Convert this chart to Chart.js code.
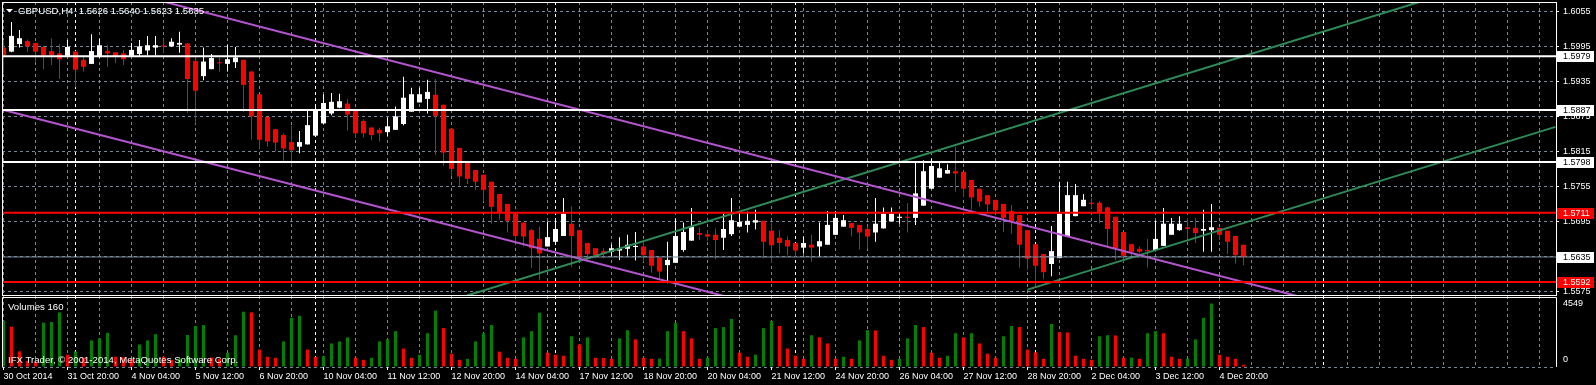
<!DOCTYPE html>
<html><head><meta charset="utf-8">
<script src="https://cdn.jsdelivr.net/npm/chart.js@4.4.1/dist/chart.umd.min.js"></script>
<style>html,body{margin:0;padding:0;background:#000;overflow:hidden}canvas{display:block}</style>
</head><body>
<canvas id="c" width="1596" height="385"></canvas>
<script>
const symbol = 'GBPUSD,H4';
const titleValues = [1.5626, 1.5640, 1.5623, 1.5635];

const opens = [
1.5994,1.5987,1.6000,1.6005,1.6002,1.5995,1.5988,1.5984,1.5980,1.5987,
1.5973,1.5966,1.5978,1.5988,1.5986,1.5984,1.5980,1.5983,1.5989,1.5994,
1.5997,1.5996,1.5999,1.6001,1.5971,1.5945,1.5957,1.5968,1.5966,1.5969,
1.5973,1.5953,1.5914,1.5875,1.5854,1.5844,1.5832,1.5824,1.5828,1.5843,
1.5864,1.5881,1.5891,1.5898,1.5887,1.5868,1.5857,1.5853,1.5849,1.5853,
1.5863,1.5884,1.5900,1.5906,1.5913,1.5896,1.5855,1.5822,1.5797,1.5784,
1.5776,1.5764,1.5743,1.5726,1.5709,1.5694,1.5681,1.5666,1.5653,1.5661,
1.5671,1.5692,1.5681,1.5659,1.5650,1.5645,1.5644,1.5646,1.5649,1.5652,
1.5653,1.5647,1.5634,1.5621,1.5625,1.5647,1.5663,1.5676,1.5674,1.5673,
1.5668,1.5674,1.5687,1.5690,1.5694,1.5697,1.5680,1.5668,1.5664,1.5659,
1.5651,1.5656,1.5653,1.5656,1.5673,1.5687,1.5693,1.5690,1.5683,1.5677,
1.5684,1.5696,1.5702,1.5704,1.5702,1.5723,1.5752,1.5771,1.5778,1.5782,
1.5781,1.5767,1.5752,1.5741,1.5733,1.5726,1.5714,1.5707,1.5681,1.5657,
1.5640,1.5623,1.5633,1.5671,1.5705,1.5722,1.5728,1.5728,1.5720,1.5704,
1.5678,1.5657,1.5649,1.5647,1.5647,1.5654,1.5673,1.5681,1.5686,1.5685,
1.5680,1.5681,1.5685,1.5680,1.5671,1.5656];

const highs = [
1.6007,1.6038,1.6024,1.6008,1.6002,1.5997,1.6010,1.6000,1.6007,1.5988,
1.5978,1.6017,1.6009,1.5999,1.5986,1.5990,1.6002,1.6007,1.6014,1.6014,
1.6009,1.6010,1.6021,1.6002,1.5978,1.5994,1.5983,1.5977,1.5999,1.5995,
1.5973,1.5953,1.5914,1.5875,1.5855,1.5847,1.5860,1.5851,1.5887,1.5897,
1.5914,1.5916,1.5915,1.5906,1.5887,1.5871,1.5857,1.5857,1.5874,1.5893,
1.5944,1.5925,1.5925,1.5939,1.5940,1.5896,1.5855,1.5822,1.5797,1.5784,
1.5776,1.5764,1.5743,1.5726,1.5709,1.5694,1.5683,1.5687,1.5696,1.5700,
1.5736,1.5722,1.5681,1.5659,1.5650,1.5650,1.5657,1.5669,1.5673,1.5678,
1.5661,1.5647,1.5634,1.5661,1.5701,1.5694,1.5719,1.5686,1.5681,1.5684,
1.5709,1.5736,1.5710,1.5713,1.5716,1.5697,1.5694,1.5681,1.5670,1.5659,
1.5670,1.5673,1.5694,1.5714,1.5714,1.5707,1.5693,1.5690,1.5687,1.5736,
1.5720,1.5720,1.5709,1.5727,1.5798,1.5801,1.5804,1.5798,1.5794,1.5824,
1.5781,1.5767,1.5752,1.5741,1.5733,1.5726,1.5724,1.5707,1.5681,1.5657,
1.5640,1.5688,1.5764,1.5764,1.5760,1.5743,1.5736,1.5731,1.5721,1.5704,
1.5678,1.5657,1.5653,1.5666,1.5697,1.5719,1.5702,1.5705,1.5702,1.5702,
1.5716,1.5726,1.5685,1.5680,1.5671,1.5656];

const lows = [
1.5950,1.5986,1.5994,1.5987,1.5968,1.5957,1.5964,1.5940,1.5978,1.5926,
1.5953,1.5966,1.5976,1.5961,1.5967,1.5964,1.5978,1.5978,1.5981,1.5981,
1.5985,1.5995,1.5985,1.5882,1.5864,1.5938,1.5957,1.5953,1.5953,1.5959,
1.5884,1.5836,1.5821,1.5824,1.5816,1.5800,1.5790,1.5813,1.5828,1.5843,
1.5863,1.5878,1.5890,1.5852,1.5839,1.5840,1.5835,1.5833,1.5842,1.5853,
1.5861,1.5884,1.5900,1.5881,1.5810,1.5791,1.5774,1.5757,1.5760,1.5750,
1.5730,1.5692,1.5699,1.5677,1.5656,1.5653,1.5616,1.5595,1.5653,1.5661,
1.5671,1.5618,1.5630,1.5630,1.5633,1.5633,1.5636,1.5630,1.5637,1.5629,
1.5627,1.5608,1.5597,1.5590,1.5625,1.5644,1.5663,1.5664,1.5663,1.5631,
1.5647,1.5671,1.5686,1.5677,1.5682,1.5633,1.5625,1.5641,1.5638,1.5635,
1.5641,1.5627,1.5636,1.5656,1.5673,1.5687,1.5670,1.5648,1.5649,1.5661,
1.5684,1.5696,1.5692,1.5677,1.5690,1.5723,1.5752,1.5771,1.5778,1.5747,
1.5738,1.5716,1.5721,1.5711,1.5709,1.5678,1.5675,1.5617,1.5613,1.5584,
1.5597,1.5602,1.5633,1.5671,1.5705,1.5722,1.5718,1.5693,1.5652,1.5630,
1.5627,1.5636,1.5641,1.5617,1.5645,1.5654,1.5673,1.5680,1.5662,1.5659,
1.5644,1.5644,1.5664,1.5640,1.5624,1.5621];

const closes = [
1.5981,1.6014,1.6010,1.5996,1.5987,1.5981,1.5981,1.5974,1.5995,1.5956,
1.5961,1.5988,1.5998,1.5984,1.5978,1.5974,1.5990,1.5996,1.5998,1.5998,
1.5996,1.6004,1.6002,1.5940,1.5920,1.5970,1.5976,1.5967,1.5974,1.5977,
1.5930,1.5876,1.5836,1.5833,1.5831,1.5821,1.5818,1.5832,1.5861,1.5887,
1.5899,1.5901,1.5902,1.5879,1.5847,1.5847,1.5844,1.5847,1.5859,1.5876,
1.5908,1.5914,1.5914,1.5918,1.5877,1.5814,1.5786,1.5773,1.5769,1.5764,
1.5750,1.5721,1.5711,1.5697,1.5671,1.5670,1.5650,1.5641,1.5669,1.5683,
1.5709,1.5671,1.5634,1.5640,1.5638,1.5642,1.5650,1.5650,1.5656,1.5654,
1.5638,1.5620,1.5610,1.5630,1.5671,1.5678,1.5687,1.5673,1.5670,1.5664,
1.5683,1.5698,1.5695,1.5697,1.5698,1.5661,1.5655,1.5659,1.5653,1.5646,
1.5659,1.5651,1.5662,1.5690,1.5702,1.5698,1.5685,1.5677,1.5670,1.5692,
1.5709,1.5709,1.5704,1.5702,1.5744,1.5782,1.5791,1.5787,1.5784,1.5778,
1.5752,1.5737,1.5730,1.5725,1.5715,1.5702,1.5696,1.5656,1.5632,1.5620,
1.5609,1.5645,1.5709,1.5741,1.5741,1.5733,1.5726,1.5712,1.5683,1.5650,
1.5637,1.5644,1.5644,1.5645,1.5666,1.5692,1.5692,1.5692,1.5683,1.5676,
1.5683,1.5686,1.5673,1.5661,1.5638,1.5635];

const volumes = [
3325,2885,1123,440,367,3178,3230,3912,881,1123,
661,1908,2055,2444,734,697,587,1615,1908,2349,
734,514,587,2297,2936,3009,683,587,1028,2275,
3964,3912,1248,734,661,1835,3523,3670,1248,734,
771,1688,1835,2129,661,514,661,1835,1982,2569,
1321,661,881,2422,4037,2789,954,514,587,1835,
2422,3009,1101,661,587,2129,2569,3890,1028,881,
807,2202,1615,2129,661,646,587,2055,2642,1982,
661,587,602,2569,3156,2569,2055,587,661,2789,
2863,3450,1028,734,881,2789,3303,2936,1321,807,
587,2275,2129,1688,587,734,587,1908,2642,2620,
807,514,587,2055,3009,2863,1028,661,807,2422,
2129,2422,1688,954,661,2202,2936,2863,1248,1050,
587,3083,2496,2474,807,587,514,2202,2275,2261,
661,675,587,2422,2569,2422,734,587,602,1982,
3523,4549,881,734,587,160];

const timeLabels = ['30 Oct 2014','31 Oct 20:00','4 Nov 04:00','5 Nov 12:00','6 Nov 20:00','10 Nov 04:00',
'11 Nov 12:00','12 Nov 20:00','14 Nov 04:00','17 Nov 12:00','18 Nov 20:00','20 Nov 04:00','21 Nov 12:00',
'24 Nov 20:00','26 Nov 04:00','27 Nov 12:00','28 Nov 20:00','2 Dec 04:00','3 Dec 12:00','4 Dec 20:00'];
const priceTicks = [1.5575, 1.5635, 1.5695, 1.5755, 1.5815, 1.5875, 1.5935, 1.5995, 1.6055];
const volumeTicks = [4549, 0];
const whiteLevels = [1.5979, 1.5887, 1.5798];
const redLevels = [1.5711, 1.5592];
const bidLevel = 1.5635;
const weekStarts = [9, 39, 69, 99, 129, 165];
const purpleUpper = [[0, 1.6144], [194, 1.5453]];
const purpleLower = [[0, 1.5887], [194, 1.5200]];
const greenUpper = [[0, 1.5324], [194, 1.6144]];
const greenLower = [[128, 1.5579], [194, 1.5858]];
const copyright = 'IFX Trader, \u00a9 2001-2014, MetaQuotes Software Corp.';

const FONT = '"Liberation Sans", Arial, sans-serif';
const GRID = '#778899';
Chart.defaults.font.family = FONT;
Chart.defaults.font.size = 9;

const idx = opens.map((_, i) => i);
const up = i => closes[i] >= opens[i];
const candleColor = c => up(c.dataIndex) ? '#ffffff' : '#ff0000';
const volColor = c => { const i = c.dataIndex; return (i === 0 || volumes[i] > volumes[i - 1]) ? '#008000' : '#ff0000'; };

const lineDs = (pts, color, width) => ({
  type: 'line', data: pts.map(([x, y]) => ({x, y})), borderColor: color, borderWidth: width,
  pointRadius: 0, fill: false, tension: 0, yAxisID: 'y', order: 0, clip: 0
});
const levelDs = (p, color, width) => lineDs([[-2, p], [200, p]], color, width);

const datasets = [
  ...whiteLevels.map(p => levelDs(p, '#ffffff', 2)),
  ...redLevels.map(p => levelDs(p, '#ff0000', 2)),
  levelDs(bidLevel, GRID, 1),
  lineDs(purpleUpper, '#b455d0', 2),
  lineDs(purpleLower, '#b455d0', 2),
  lineDs(greenUpper, '#2e8b57', 2),
  lineDs(greenLower, '#2e8b57', 2),
  { type: 'bar', data: idx.map(i => ({x: i, y: [opens[i], closes[i]]})), yAxisID: 'y',
    backgroundColor: candleColor, borderWidth: 0, barThickness: 5, minBarLength: 1,
    grouped: false, inflateAmount: 0, order: 1, clip: 0 },
  { type: 'bar', data: idx.map(i => ({x: i, y: [lows[i], highs[i]]})), yAxisID: 'y',
    backgroundColor: candleColor, borderWidth: 0, barThickness: 1, minBarLength: 1,
    grouped: false, inflateAmount: 0, order: 2, clip: 0 },
  { type: 'bar', data: idx.map(i => ({x: i, y: volumes[i]})), yAxisID: 'yv',
    backgroundColor: volColor, borderWidth: 0, barThickness: 3,
    grouped: false, inflateAmount: 0, order: 3, clip: 0 }
];

const noPad = s => { s.paddingLeft = 0; s.paddingRight = 0; s.paddingTop = 0; s.paddingBottom = 0; };

const overlay = {
  id: 'overlay',
  beforeDraw(c) {
    const g = c.ctx; g.save(); g.fillStyle = '#000'; g.fillRect(0, 0, c.width, c.height); g.restore();
  },
  beforeDatasetsDraw(c) {
    const g = c.ctx, xs = c.scales.x, a = c.chartArea;
    g.save(); g.strokeStyle = '#ffffff'; g.lineWidth = 1; g.setLineDash([3, 3]);
    weekStarts.forEach(b => {
      const x = Math.floor(xs.getPixelForValue(b)) + 0.5;
      g.beginPath(); g.moveTo(x, a.top); g.lineTo(x, a.bottom); g.stroke();
    });
    g.restore();
  },
  afterDraw(c) {
    const g = c.ctx, xs = c.scales.x, yP = c.scales.y, yV = c.scales.yv, a = c.chartArea;
    g.save();
    g.setLineDash([]); g.strokeStyle = '#ffffff'; g.lineWidth = 1;
    g.strokeRect(a.left + 0.5, yP.top + 0.5, a.right - a.left, yP.bottom - yP.top - 1);
    g.beginPath();
    g.moveTo(a.left + 0.5, a.bottom); g.lineTo(a.left + 0.5, yV.top + 1.5);
    g.lineTo(a.right + 0.5, yV.top + 1.5); g.lineTo(a.right + 0.5, a.bottom);
    g.stroke();
    g.beginPath();
    timeLabels.forEach((_, k) => {
      const x = Math.floor(xs.getPixelForValue(k * 8)) + 0.5;
      g.moveTo(x, a.bottom); g.lineTo(x, a.bottom + 3);
    });
    g.stroke();
    g.font = '9px ' + FONT; g.textBaseline = 'middle'; g.textAlign = 'left';
    const tag = (p, bg, fg) => {
      const y = Math.round(yP.getPixelForValue(p));
      g.fillStyle = bg; g.fillRect(a.right + 1, y - 5, 37, 11);
      g.fillStyle = fg; g.fillText(p.toFixed(4), a.right + 7, y + 0.5);
    };
    whiteLevels.forEach(p => tag(p, '#ffffff', '#000000'));
    redLevels.forEach(p => tag(p, '#ff0000', '#ffffff'));
    tag(bidLevel, '#ffffff', '#000000');
    g.fillStyle = '#ffffff';
    volumeTicks.forEach(v => {
      const y = Math.min(yV.getPixelForValue(v), yV.bottom - 7);
      g.fillText(String(v), a.right + 7, y);
    });
    g.beginPath(); g.moveTo(6, 9); g.lineTo(13, 9); g.lineTo(9.5, 12.5); g.closePath(); g.fill();
    g.font = '9.6px ' + FONT;
    g.fillText(symbol + '  ' + titleValues.map(v => v.toFixed(4)).join(' '), 18, 11);
    g.fillText('Volumes ' + volumes[volumes.length - 1], 8, 307);
    g.fillText(copyright, 8, 360);
    g.restore();
  }
};

new Chart(document.getElementById('c'), {
  type: 'bar',
  data: { datasets },
  options: {
    responsive: false, maintainAspectRatio: false, devicePixelRatio: 1, animation: false, events: [],
    layout: { padding: { top: 2, left: 2, right: 0, bottom: 0 } },
    plugins: { legend: { display: false }, tooltip: { enabled: false } },
    scales: {
      x: {
        type: 'linear', position: 'bottom', min: -0.1875, max: 194.0625, bounds: 'data', offset: false,
        afterBuildTicks: s => { const t = []; for (let v = 0; v <= 192; v += 4) t.push({value: v}); s.ticks = t; },
        afterFit: s => { s.height = 18; noPad(s); },
        grid: { color: GRID, drawTicks: false, offset: false, lineWidth: 1 },
        border: { display: false, dash: [3, 3] },
        ticks: { autoSkip: false, maxRotation: 0, minRotation: 0, align: 'start', padding: 4, color: '#ffffff',
          font: { size: 9 }, callback: v => (v % 8 === 0 && timeLabels[v / 8]) || '' }
      },
      y: {
        type: 'linear', position: 'right', stack: 'panes', stackWeight: 294,
        min: 1.55681, max: 1.60721, bounds: 'data', beginAtZero: false,
        afterBuildTicks: s => { s.ticks = priceTicks.map(v => ({value: v})); },
        afterFit: s => { s.width = 40; noPad(s); },
        grid: { color: GRID, drawTicks: true, tickLength: 3, tickColor: '#ffffff', tickBorderDash: [] },
        border: { display: false, dash: [3, 3] },
        ticks: { autoSkip: false, color: '#ffffff', padding: 4, font: { size: 9 }, callback: v => Number(v).toFixed(4) }
      },
      yv: {
        type: 'linear', position: 'right', stack: 'panes', stackWeight: 71,
        min: 0, max: 5090, bounds: 'data',
        afterBuildTicks: s => { s.ticks = volumeTicks.map(v => ({value: v})); },
        afterFit: s => { s.width = 40; noPad(s); },
        grid: { color: c => (c.tick && c.tick.value === 0) ? GRID : 'rgba(0,0,0,0)', drawTicks: false },
        border: { display: false, dash: [3, 3] },
        ticks: { display: false }
      }
    }
  },
  plugins: [overlay]
});
</script>
</body></html>
